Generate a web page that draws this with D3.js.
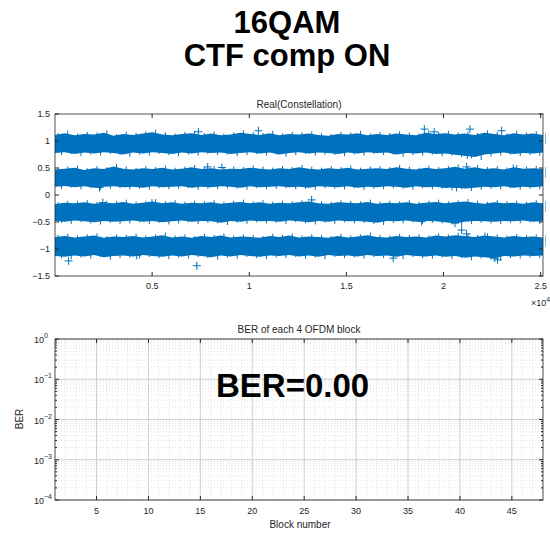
<!DOCTYPE html>
<html lang="en">
<head>
<meta charset="UTF-8">
<title>16QAM CTF comp ON</title>
<script src="https://cdn.jsdelivr.net/npm/d3@7"></script>
<style>
body { margin: 0; background: #fff; }
svg text { font-family: Arial, "Liberation Sans", Helvetica, sans-serif; fill: #262626; }
</style>
</head>
<body>
<svg id="fig" width="550" height="533"></svg>
<script>
// ---- data ----
let nSamples = 25120
let levels = [0.949, 0.316, -0.316, -0.949]

// solid core of each band, offset above / below the level (every ~1000 samples)
let coreUp = [
	[0.13,0.12,0.13,0.12,0.13,0.14,0.12,0.13,0.12,0.13,0.12,0.13,0.12,0.12,0.13,0.12,0.13,0.12,0.13,0.14,0.13,0.14,0.13,0.12,0.13,0.13],
	[0.12,0.13,0.12,0.13,0.12,0.12,0.13,0.13,0.12,0.12,0.13,0.12,0.12,0.13,0.12,0.12,0.13,0.12,0.12,0.13,0.13,0.14,0.13,0.12,0.13,0.12],
	[0.12,0.12,0.13,0.12,0.12,0.13,0.12,0.12,0.13,0.12,0.12,0.13,0.12,0.12,0.12,0.13,0.12,0.12,0.13,0.12,0.13,0.13,0.12,0.12,0.13,0.12],
	[0.13,0.12,0.13,0.13,0.12,0.13,0.12,0.13,0.12,0.13,0.12,0.13,0.13,0.12,0.13,0.12,0.13,0.12,0.13,0.13,0.14,0.14,0.13,0.12,0.13,0.13]
]
let coreDown = [
	[0.13,0.14,0.13,0.13,0.14,0.13,0.14,0.13,0.13,0.14,0.13,0.13,0.14,0.13,0.13,0.14,0.13,0.13,0.14,0.14,0.15,0.17,0.14,0.13,0.14,0.13],
	[0.12,0.12,0.13,0.12,0.12,0.13,0.12,0.12,0.13,0.12,0.12,0.12,0.13,0.12,0.12,0.13,0.12,0.12,0.13,0.12,0.13,0.13,0.12,0.12,0.13,0.12],
	[0.13,0.12,0.12,0.13,0.12,0.12,0.13,0.12,0.12,0.13,0.12,0.12,0.13,0.12,0.12,0.12,0.13,0.12,0.12,0.13,0.14,0.13,0.12,0.13,0.12,0.12],
	[0.13,0.14,0.14,0.13,0.13,0.14,0.13,0.14,0.13,0.13,0.14,0.13,0.13,0.14,0.13,0.14,0.13,0.13,0.14,0.14,0.14,0.15,0.15,0.14,0.13,0.14]
]

// outer fuzzy edge (the spikes of the markers), every ~500 samples
let hairUp = [
	[0.20,0.24,0.19,0.22,0.21,0.25,0.18,0.22,0.20,0.23,0.26,0.21,0.19,0.22,0.24,0.20,0.23,0.19,0.21,0.25,0.22,0.20,0.24,0.19,0.22,0.21,0.23,0.20,0.18,0.22,0.21,0.24,0.19,0.22,0.20,0.23,0.21,0.19,0.25,0.22,0.24,0.21,0.23,0.20,0.25,0.22,0.19,0.24,0.21,0.23,0.20],
	[0.19,0.21,0.23,0.18,0.22,0.20,0.26,0.21,0.19,0.22,0.20,0.23,0.19,0.21,0.24,0.20,0.22,0.19,0.21,0.20,0.23,0.21,0.19,0.22,0.20,0.24,0.21,0.19,0.22,0.20,0.23,0.19,0.21,0.22,0.20,0.24,0.21,0.19,0.23,0.20,0.22,0.25,0.21,0.24,0.20,0.22,0.19,0.24,0.21,0.22,0.20],
	[0.18,0.21,0.20,0.22,0.19,0.21,0.20,0.23,0.19,0.21,0.24,0.20,0.22,0.19,0.21,0.20,0.22,0.19,0.21,0.23,0.20,0.22,0.19,0.21,0.20,0.22,0.24,0.20,0.19,0.22,0.21,0.20,0.23,0.19,0.21,0.20,0.22,0.19,0.21,0.23,0.20,0.22,0.24,0.21,0.19,0.22,0.20,0.21,0.19,0.22,0.20],
	[0.21,0.23,0.20,0.22,0.24,0.19,0.22,0.21,0.23,0.20,0.22,0.25,0.20,0.22,0.19,0.23,0.21,0.24,0.20,0.22,0.21,0.19,0.23,0.21,0.24,0.20,0.22,0.21,0.19,0.23,0.20,0.22,0.25,0.21,0.20,0.23,0.21,0.22,0.20,0.24,0.22,0.25,0.23,0.21,0.24,0.22,0.20,0.23,0.21,0.22,0.20]
]
let hairDown = [
	[0.21,0.19,0.23,0.20,0.22,0.19,0.21,0.24,0.20,0.22,0.19,0.21,0.23,0.20,0.22,0.19,0.21,0.20,0.23,0.21,0.19,0.22,0.20,0.24,0.21,0.19,0.22,0.20,0.21,0.23,0.20,0.22,0.19,0.21,0.20,0.24,0.21,0.22,0.20,0.23,0.22,0.25,0.27,0.30,0.24,0.22,0.20,0.23,0.21,0.22,0.20],
	[0.20,0.18,0.21,0.19,0.22,0.20,0.19,0.21,0.20,0.22,0.19,0.21,0.20,0.19,0.22,0.20,0.21,0.19,0.20,0.22,0.19,0.21,0.20,0.19,0.21,0.20,0.22,0.19,0.20,0.21,0.19,0.22,0.20,0.21,0.19,0.20,0.22,0.19,0.21,0.20,0.23,0.21,0.24,0.22,0.20,0.21,0.19,0.22,0.20,0.21,0.19],
	[0.20,0.22,0.19,0.21,0.23,0.20,0.22,0.21,0.19,0.22,0.20,0.23,0.21,0.19,0.22,0.20,0.21,0.24,0.20,0.22,0.19,0.21,0.20,0.22,0.19,0.21,0.23,0.20,0.22,0.19,0.21,0.20,0.22,0.24,0.20,0.21,0.19,0.22,0.20,0.21,0.23,0.26,0.22,0.20,0.21,0.22,0.20,0.21,0.19,0.22,0.20],
	[0.22,0.24,0.21,0.23,0.20,0.25,0.22,0.21,0.23,0.20,0.22,0.24,0.21,0.23,0.20,0.22,0.25,0.21,0.23,0.20,0.22,0.24,0.21,0.22,0.20,0.23,0.21,0.24,0.20,0.22,0.21,0.23,0.20,0.22,0.21,0.24,0.20,0.22,0.23,0.21,0.24,0.22,0.26,0.23,0.25,0.27,0.22,0.23,0.21,0.22,0.21]
]

// '+' markers that stand out of the bands [sample, value]
let outliers = [
	[7380,1.17],[10470,1.19],[19010,1.22],[19520,1.17],[21360,1.22],[22990,1.19],
	[7860,0.52],[8590,0.51],[21220,0.74],[21190,0.52],[23590,0.49],
	[2290,0.14],[20670,0.14],
	[2460,-0.14],[4990,-0.15],[13210,-0.09],
	[18870,-0.49],[20590,-0.52],[20930,-0.65],[21190,-0.72],[22130,-0.77],
	[700,-1.22],[4210,-1.12],[7300,-1.31],[17410,-1.17],[22640,-1.17],[22780,-1.20]
]

let topYTicks = [-1.5, -1, -0.5, 0, 0.5, 1, 1.5]
let topXTicks = [5000, 10000, 15000, 20000, 25000]
let topXLabels = ['0.5', '1', '1.5', '2', '2.5']

let blocks = [1, 48]
let berXTicks = [5, 10, 15, 20, 25, 30, 35, 40, 45]
let berYTicks = [1e-4, 1e-3, 1e-2, 1e-1, 1]
let berYExp = ['-4', '-3', '-2', '-1', '0']
let berText = 'BER=0.00'

// ---- drawing ----
let blue = '#0072BD'
let axisCol = '#262626'
let svg = d3.select('#fig')

// main title
svg.append('text').attr('x', 287).attr('y', 33).attr('text-anchor', 'middle')
	.style('font-size', '31px').style('font-weight', 'bold').style('fill', '#000').text('16QAM')
svg.append('text').attr('x', 287).attr('y', 66).attr('text-anchor', 'middle')
	.style('font-size', '31px').style('font-weight', 'bold').style('fill', '#000').text('CTF comp ON')

// top axes
let x1 = d3.scaleLinear().domain([0, nSamples]).range([55, 543])
let y1 = d3.scaleLinear().domain([-1.5, 1.5]).range([276, 114])

let gTop = svg.append('g')
svg.append('clipPath').attr('id', 'clipTop')
	.append('rect').attr('x', 52).attr('y', 114).attr('width', 494).attr('height', 162)

let plot = gTop.append('g').attr('clip-path', 'url(#clipTop)')

levels.forEach(function (lv, b) {
	let nh = hairUp[b].length
	let nc = coreUp[b].length
	let hx = i => x1(i * nSamples / (nh - 1))
	let cx = i => x1(i * nSamples / (nc - 1))

	// jagged outer band (a little inside the spike tips)
	plot.append('path')
		.datum(hairUp[b])
		.attr('fill', blue)
		.attr('d', d3.area()
			.x((d, i) => hx(i))
			.y0((d, i) => y1(lv - hairDown[b][i] * 0.82))
			.y1(d => y1(lv + d * 0.82)))

	// spike tips, between the zigzag corners
	let spikes = ''
	hairUp[b].forEach(function (d, i) {
		let px = hx(i) + 3
		spikes += `M${px},${y1(lv + d)}V${y1(lv)}`
	})
	hairDown[b].forEach(function (d, i) {
		let px = hx(i) + 6.5
		spikes += `M${px},${y1(lv - d)}V${y1(lv)}`
	})
	plot.append('path').attr('d', spikes).attr('stroke', blue).attr('stroke-width', 1)

	// solid core
	plot.append('path')
		.datum(coreUp[b])
		.attr('fill', blue)
		.attr('d', d3.area()
			.curve(d3.curveMonotoneX)
			.x((d, i) => cx(i))
			.y0((d, i) => y1(lv - coreDown[b][i]))
			.y1(d => y1(lv + d)))
})

// outlier markers
outliers.forEach(function (p) {
	let px = x1(p[0]), py = y1(p[1])
	plot.append('path')
		.attr('d', `M${px - 4},${py}H${px + 4}M${px},${py - 4}V${py + 4}`)
		.attr('stroke', blue).attr('stroke-width', 1)
})

// top axes box + ticks
gTop.append('rect').attr('x', 55).attr('y', 114).attr('width', 488).attr('height', 162)
	.attr('fill', 'none').attr('stroke', axisCol).attr('stroke-width', 0.8)

topXTicks.forEach(function (t, i) {
	let px = x1(t)
	gTop.append('line').attr('x1', px).attr('x2', px).attr('y1', 276).attr('y2', 272).attr('stroke', axisCol)
	gTop.append('line').attr('x1', px).attr('x2', px).attr('y1', 114).attr('y2', 118).attr('stroke', axisCol)
	gTop.append('text').attr('x', px).attr('y', 289).attr('text-anchor', 'middle')
		.style('font-size', '9px').text(topXLabels[i])
})
topYTicks.forEach(function (t) {
	let py = y1(t)
	gTop.append('line').attr('x1', 55).attr('x2', 59).attr('y1', py).attr('y2', py).attr('stroke', axisCol)
	gTop.append('line').attr('x1', 543).attr('x2', 539).attr('y1', py).attr('y2', py).attr('stroke', axisCol)
	gTop.append('text').attr('x', 50).attr('y', py + 3).attr('text-anchor', 'end')
		.style('font-size', '9px').text(String(t).replace('-', '\u2212'))
})
let exp1 = gTop.append('text').attr('x', 531).attr('y', 306).style('font-size', '9px')
exp1.append('tspan').text('\u00d710')
exp1.append('tspan').attr('dy', -4).style('font-size', '7px').text('4')

gTop.append('text').attr('x', 299).attr('y', 108).attr('text-anchor', 'middle')
	.style('font-size', '10px').text('Real(Constellation)')

// bottom axes
let x2 = d3.scaleLinear().domain(blocks).range([55, 543])
let y2 = d3.scaleLog().domain([1e-4, 1]).range([500, 339])
let gBot = svg.append('g')

// minor grid
d3.range(blocks[0], blocks[1] + 1).forEach(function (b) {
	if (berXTicks.indexOf(b) >= 0) return
	gBot.append('line').attr('x1', x2(b)).attr('x2', x2(b)).attr('y1', 339).attr('y2', 500)
		.attr('stroke', '#d4d4d4').attr('stroke-width', 0.7).attr('stroke-dasharray', '1,2')
})
let minorY = y2.ticks().filter(v => berYTicks.indexOf(v) < 0)
minorY.forEach(function (v) {
	gBot.append('line').attr('x1', 55).attr('x2', 543).attr('y1', y2(v)).attr('y2', y2(v))
		.attr('stroke', '#d4d4d4').attr('stroke-width', 0.7).attr('stroke-dasharray', '1,2')
})
// major grid
berXTicks.forEach(function (t) {
	gBot.append('line').attr('x1', x2(t)).attr('x2', x2(t)).attr('y1', 339).attr('y2', 500)
		.attr('stroke', '#cfcfcf').attr('stroke-width', 1)
})
berYTicks.forEach(function (t) {
	gBot.append('line').attr('x1', 55).attr('x2', 543).attr('y1', y2(t)).attr('y2', y2(t))
		.attr('stroke', '#cfcfcf').attr('stroke-width', 1)
})

gBot.append('rect').attr('x', 55).attr('y', 339).attr('width', 488).attr('height', 161)
	.attr('fill', 'none').attr('stroke', axisCol).attr('stroke-width', 0.8)

berXTicks.forEach(function (t) {
	let px = x2(t)
	gBot.append('line').attr('x1', px).attr('x2', px).attr('y1', 500).attr('y2', 496).attr('stroke', axisCol)
	gBot.append('line').attr('x1', px).attr('x2', px).attr('y1', 339).attr('y2', 343).attr('stroke', axisCol)
	gBot.append('text').attr('x', px).attr('y', 514).attr('text-anchor', 'middle')
		.style('font-size', '9px').text(t)
})
y2.ticks().forEach(function (v) {
	let major = berYTicks.indexOf(v) >= 0
	let len = major ? 4 : 2
	gBot.append('line').attr('x1', 55).attr('x2', 55 + len).attr('y1', y2(v)).attr('y2', y2(v)).attr('stroke', axisCol)
	gBot.append('line').attr('x1', 543).attr('x2', 543 - len).attr('y1', y2(v)).attr('y2', y2(v)).attr('stroke', axisCol)
})
berYTicks.forEach(function (t, i) {
	let tx = gBot.append('text').attr('x', 44).attr('y', y2(t) + 4).attr('text-anchor', 'end')
		.style('font-size', '9px')
	tx.append('tspan').text('10')
	tx.append('tspan').attr('dy', -5).style('font-size', '7px').attr('x', 44).attr('text-anchor', 'start')
		.text(berYExp[i].replace('-', '\u2212'))
})

gBot.append('text').attr('x', 299).attr('y', 333).attr('text-anchor', 'middle')
	.style('font-size', '10px').text('BER of each 4 OFDM block')
gBot.append('text').attr('x', 300).attr('y', 528).attr('text-anchor', 'middle')
	.style('font-size', '10px').text('Block number')
gBot.append('text').attr('transform', 'translate(23,419) rotate(-90)').attr('text-anchor', 'middle')
	.style('font-size', '10px').text('BER')

gBot.append('text').attr('x', 216).attr('y', 397)
	.style('font-size', '33px').style('font-weight', 'bold').style('fill', '#000').text(berText)
</script>
</body>
</html>
